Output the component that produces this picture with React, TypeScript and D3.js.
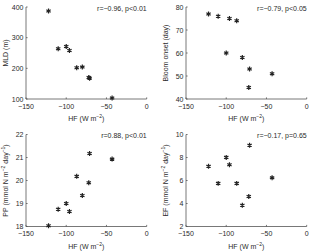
import { scaleLinear, symbol, symbolAsterisk } from "d3";

const hf = [-122, -110, -100, -96, -87, -80, -72, -71, -43];
const mld = [387, 264, 271, 258, 202, 204, 170, 168, 103];
const bloom = [77, 76, 60, 75, 74, 58, 45, 53, 51];
const pp = [18.03, 18.75, 19.0, 18.65, 20.18, 19.35, 19.9, 21.17, 20.93];
const ef = [7.23, 5.75, 8.01, 7.37, 5.75, 3.85, 4.6, 9.07, 6.23];

const xTicks = [-150, -100, -50, 0];
const stats = ["r=−0.96, p<0.01", "r=−0.79, p<0.05", "r=0.88, p<0.01", "r=−0.17, p=0.65"];

const FONT = "'Liberation Sans', Arial, sans-serif";
const INK = "#2a2a2a";
const AXIS = "#555";

const fmt = (v: number) => (v < 0 ? "−" + Math.abs(v) : String(v));

interface PanelProps {
  left: number;
  top: number;
  values: number[];
  yDomain: [number, number];
  yTicks: number[];
  stat: string;
  yLabel: React.ReactNode;
}

function Panel({ left, top, values, yDomain, yTicks, stat, yLabel }: PanelProps) {
  const w = 120.7;
  const h = 92;
  const x = scaleLinear().domain([-150, 0]).range([0, w]);
  const y = scaleLinear().domain(yDomain).range([h, 0]);
  const marker = symbol(symbolAsterisk, 17)() || "";
  return (
    <g transform={`translate(${left},${top})`} fontFamily={FONT} fontSize={7} fill={INK}>
      {/* axes */}
      <line x1={0} x2={0} y1={0} y2={h} stroke={AXIS} strokeWidth={0.8} />
      <line x1={0} x2={w} y1={h} y2={h} stroke={AXIS} strokeWidth={0.8} />
      {yTicks.map((t) => (
        <g key={t}>
          <line x1={0} x2={1.6} y1={y(t)} y2={y(t)} stroke={AXIS} strokeWidth={0.8} />
          <text x={-2.5} y={y(t) + 2.5} textAnchor="end">
            {t}
          </text>
        </g>
      ))}
      {xTicks.map((t) => (
        <g key={t}>
          <line x1={x(t)} x2={x(t)} y1={h} y2={h - 1.6} stroke={AXIS} strokeWidth={0.8} />
          <text x={x(t)} y={h + 9.5} textAnchor="middle">
            {fmt(t)}
          </text>
        </g>
      ))}
      <text x={w / 2} y={h + 22} textAnchor="middle">
        HF (W m
        <tspan fontSize={5} dy={-3}>
          −2
        </tspan>
        <tspan dy={3}>)</tspan>
      </text>
      <text transform={`translate(-18.5,${h / 2}) rotate(-90)`} textAnchor="middle">
        {yLabel}
      </text>
      <text x={w} y={3.5} textAnchor="end">
        {stat}
      </text>
      {/* points */}
      {hf.map((v, i) => (
        <path
          key={i}
          d={marker}
          transform={`translate(${x(v)},${y(values[i])})`}
          fill="none"
          stroke="#222"
          strokeWidth={1.2}
        />
      ))}
    </g>
  );
}

const fluxLabel = (name: string) => (
  <>
    {name} (mmol N m
    <tspan fontSize={5} dy={-3}>
      −2
    </tspan>
    <tspan dy={3}> day</tspan>
    <tspan fontSize={5} dy={-3}>
      −1
    </tspan>
    <tspan dy={3}>)</tspan>
  </>
);

export default function App() {
  return (
    <svg
      width={312}
      height={252}
      style={{ position: "absolute", left: 0, top: 0, background: "#fff" }}
    >
      <Panel left={26} top={7} values={mld} yDomain={[100, 400]} yTicks={[100, 200, 300, 400]} stat={stats[0]} yLabel="MLD (m)" />
      <Panel left={186} top={7} values={bloom} yDomain={[40, 80]} yTicks={[40, 50, 60, 70, 80]} stat={stats[1]} yLabel="Bloom onset (day)" />
      <Panel left={26} top={134.5} values={pp} yDomain={[18, 22]} yTicks={[18, 19, 20, 21, 22]} stat={stats[2]} yLabel={fluxLabel("PP")} />
      <Panel left={186} top={134.5} values={ef} yDomain={[2, 10]} yTicks={[2, 4, 6, 8, 10]} stat={stats[3]} yLabel={fluxLabel("EF")} />
    </svg>
  );
}
